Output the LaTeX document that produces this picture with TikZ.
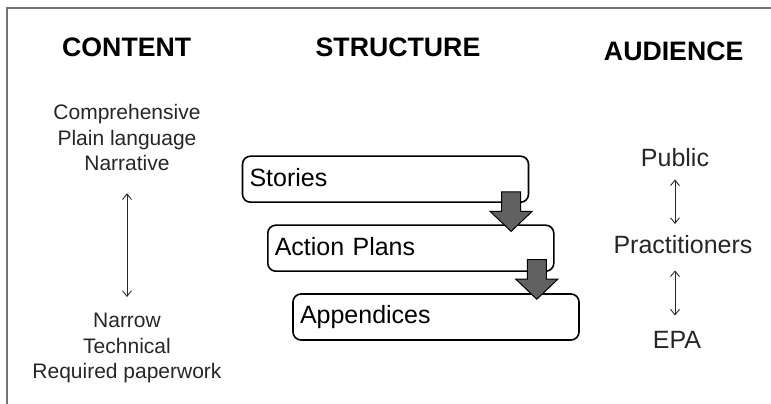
\documentclass[tikz,border=0pt]{standalone}
\usepackage{fontspec}
\setmainfont{Liberation Sans}
\usetikzlibrary{arrows.meta, calc}
\definecolor{framegray}{rgb}{0.45,0.45,0.45}
\definecolor{arrowgray}{rgb}{0.38,0.38,0.38}
\definecolor{textgray}{rgb}{0.15,0.15,0.15}
\newcommand{\boxwidth}{286pt}

\begin{document}
\begin{tikzpicture}[x=1pt,y=1pt,
    header/.style={font=\fontsize{26.7}{32}\selectfont\bfseries, inner sep=0},
    item/.style={font=\fontsize{21}{25.5}\selectfont, text=textgray, align=center, inner sep=0},
    who/.style={font=\fontsize{25}{30}\selectfont, text=textgray, inner sep=0, anchor=base},
    part/.style={draw, line width=1.6pt, rounded corners=8pt, fill=white,
        minimum width=\boxwidth, minimum height=46pt, text width=272pt, inner xsep=7pt,
        align=left, font=\fontsize{25}{30}\selectfont, text height=18pt, text depth=4pt},
    twoway/.style={{Straight Barb[length=5.5pt,width=9pt]}-{Straight Barb[length=5.5pt,width=9pt]},
        line width=0.9pt, draw=textgray},
    blockarrow/.style={fill=arrowgray, draw=black, line width=1pt, line join=miter}]

    \useasboundingbox (0,0) rectangle (771,404);
    \draw[framegray, line width=2pt] (7.3,0) -- (7.3,395.7) -- (771,395.7);

    % column titles
    \node[header] (content) at (126.7,356.2) {CONTENT};
    \node[header] (structure) at (398,356.2) {STRUCTURE};
    \node[header] (audience) at (673.7,352.3) {AUDIENCE};

    % content
    \node[item, anchor=north] (upper) at (127,299.5) {Comprehensive\\Plain language\\Narrative};
    \node[item, anchor=north] (lower) at (127,91) {Narrow\\Technical\\Required paperwork};
    \draw[twoway, shorten <=22pt, shorten >=16pt] (upper) -- (lower);

    % structure
    \node[part] (stories) at (385.5,224.8) {Stories};
    \node[part] (plans) at (410.8,155.8) {Action Plans};
    \node[part] (appendices) at (436,87) {Appendices};

    \coordinate (tip1) at ($(plans.north east)+(-43.5,-7)$);
    \coordinate (tip2) at ($(appendices.north east)+(-43,-6)$);
    \draw[blockarrow] (tip1) -- ++(-21,20) -- ++(11.5,0) -- ++(0,19.5) -- ++(19,0) -- ++(0,-19.5) -- ++(11.5,0) -- cycle;
    \draw[blockarrow] (tip2) -- ++(-21,20) -- ++(11.5,0) -- ++(0,19.5) -- ++(19,0) -- ++(0,-19.5) -- ++(11.5,0) -- cycle;

    % audience
    \node[who] (public) at (675,237.3) {Public};
    \node[who] (prac) at (683,150.7) {Practitioners};
    \node[who] (epa) at (677,55.7) {EPA};
    \draw[twoway, shorten <=12.3pt, shorten >=11pt] (public.south) -- (public.south |- prac.north);
    \draw[twoway, shorten <=16.7pt, shorten >=15.4pt] (public.south |- prac.south) -- (public.south |- epa.north);
\end{tikzpicture}
\end{document}
